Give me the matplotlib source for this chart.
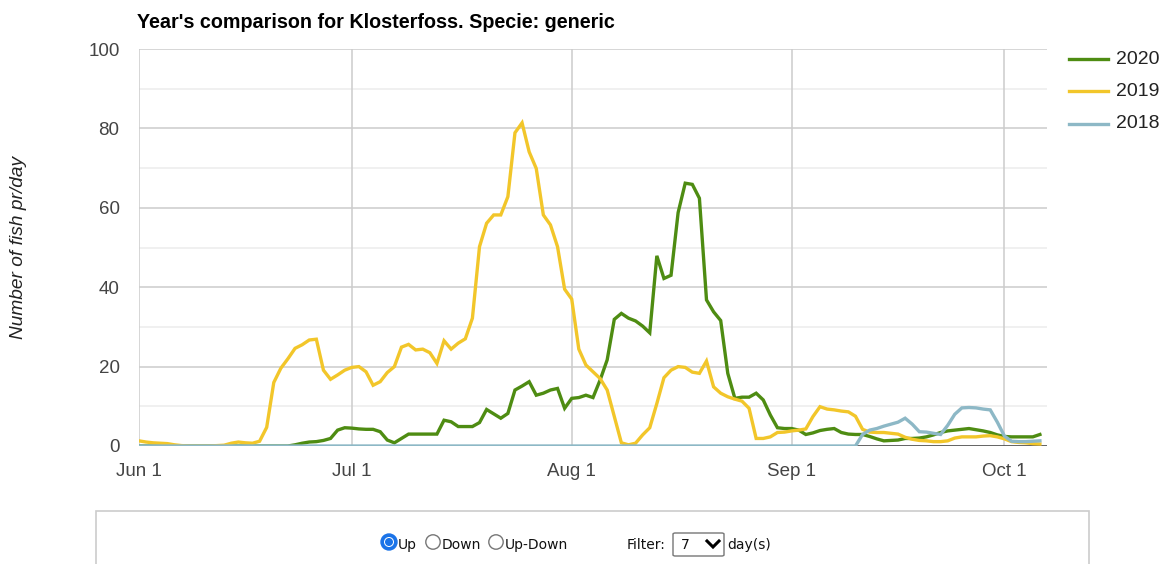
import matplotlib
matplotlib.use("Agg")
import matplotlib.pyplot as plt
from matplotlib.lines import Line2D
from matplotlib.patches import Rectangle, Circle, FancyBboxPatch
import numpy as np

plt.rcParams['font.family'] = ['Liberation Sans', 'DejaVu Sans']

# ---------------- data (day offsets from Jun 1, 7-day filtered counts) ----------------
days = list(range(128))

series_2020 = [0] * 22 + [
    0.3, 0.7, 1.0, 1.1, 1.4, 1.9, 4.0, 4.6, 4.5, 4.3,
    4.2, 4.2, 3.6, 1.5, 0.8, 1.9, 3.0, 3.0, 3.0, 3.0,
    3.0, 6.5, 6.1, 4.9, 4.9, 4.9, 5.9, 9.2, 8.1, 7.0,
    8.2, 14.1, 15.1, 16.2, 12.8, 13.3, 14.1, 14.5, 9.5, 12.0,
    12.2, 12.8, 12.2, 16.6, 21.7, 31.9, 33.4, 32.2, 31.5, 30.2,
    28.5, 47.9, 42.2, 43.0, 58.8, 66.2, 65.9, 62.4, 36.8, 33.8,
    31.6, 18.3, 12.0, 12.3, 12.3, 13.3, 11.6, 7.8, 4.6, 4.4,
    4.4, 4.0, 2.9, 3.3, 3.9, 4.2, 4.4, 3.4, 3.0, 2.9,
    2.9, 2.4, 1.8, 1.3, 1.4, 1.5, 1.9, 1.9, 2.0, 2.3,
    2.8, 3.4, 3.8, 4.0, 4.2, 4.4, 4.1, 3.8, 3.4, 2.8,
    2.4, 2.3, 2.3, 2.3, 2.3, 2.9]

series_2019 = [
    1.3, 1.0, 0.8, 0.7, 0.6, 0.3, 0.1, 0.0, 0.0, 0.0,
    0.0, 0.1, 0.2, 0.7, 1.0, 0.8, 0.7, 1.2, 4.7, 16.0,
    19.6, 22.0, 24.6, 25.5, 26.7, 26.9, 19.1, 16.8, 17.9, 19.1,
    19.8, 20.0, 18.7, 15.3, 16.2, 18.5, 20.0, 24.9, 25.6, 24.2,
    24.4, 23.5, 20.8, 26.5, 24.4, 25.9, 27.0, 32.2, 50.2, 56.1,
    58.2, 58.2, 62.8, 78.9, 81.4, 74.1, 69.9, 58.2, 55.7, 50.2,
    39.5, 37.0, 24.4, 20.4, 18.7, 17.0, 14.1, 7.4, 0.8, 0.3,
    0.7, 2.8, 4.6, 10.7, 17.2, 19.1, 20.0, 19.8, 18.6, 18.3,
    21.4, 14.9, 13.3, 12.4, 11.8, 11.3, 9.5, 1.9, 1.9, 2.3,
    3.4, 3.5, 3.8, 4.0, 4.3, 7.4, 9.9, 9.3, 9.1, 8.8,
    8.6, 7.5, 4.2, 3.5, 3.4, 3.4, 3.2, 3.0, 2.2, 1.7,
    1.4, 1.3, 1.1, 1.1, 1.3, 2.0, 2.3, 2.3, 2.3, 2.5,
    2.6, 2.3, 1.8, 1.1, 0.9, 0.8, 0.6, 0.5]

series_2018 = [0] * 102 + [
    2.9, 4.0, 4.4, 5.0, 5.5, 6.0, 7.0, 5.5, 3.6, 3.5,
    3.2, 2.9, 5.2, 8.0, 9.6, 9.7, 9.6, 9.3, 9.1, 6.0,
    2.5, 1.2, 1.1, 1.1, 1.2, 1.3]

series_names = ["2020", "2019", "2018"]
series_colors = ["#4e8c12", "#f2c62a", "#8db8c6"]

month_ticks = [0, 30, 61, 92, 122]
month_labels = ["Jun 1", "Jul 1", "Aug 1", "Sep 1", "Oct 1"]
y_ticks = [0, 20, 40, 60, 80, 100]

title = "Year's comparison for Klosterfoss. Specie: generic"
ylabel = "Number of fish pr/day"

# ---------------- figure ----------------
W, H = 1162, 564
fig = plt.figure(figsize=(W / 100, H / 100), dpi=100)
fig.patch.set_facecolor("white")

def fx(px):
    return px / W

def fy(py):
    return 1 - py / H

ax = fig.add_axes([fx(139), fy(446), fx(1047) - fx(139), fy(49) - fy(446)])
ax.set_xlim(0, 128)
ax.set_ylim(0, 100)

# grid
for v in range(10, 100, 20):
    ax.axhline(v, color="#ececec", lw=1.1, zorder=0)
for v in y_ticks[1:]:
    ax.axhline(v, color="#cccccc", lw=1.1, zorder=0)
for d in month_ticks:
    ax.axvline(d, color="#cccccc", lw=1.1, zorder=0)
ax.axhline(0, color="#555555", lw=2.0, zorder=1)

for spine in ax.spines.values():
    spine.set_visible(False)

data = [series_2020, series_2019, series_2018]
for i, (vals, name, col) in enumerate(zip(data, series_names, series_colors)):
    ax.plot(days[:len(vals)], vals, color=col, lw=2.4, zorder=3 + i,
            solid_joinstyle="miter", label=name)

ax.set_xticks(month_ticks)
ax.set_xticklabels(month_labels)
ax.set_yticks(y_ticks)
ax.tick_params(axis="both", length=0, labelsize=13.5, labelcolor="#444444")
ax.tick_params(axis="x", pad=12)
ax.tick_params(axis="y", pad=14)

# title & ylabel
fig.text(fx(137), fy(23), title, fontsize=14.2, fontweight="bold",
         color="#000000", ha="left", va="center")
fig.text(fx(19), fy(247), ylabel, fontsize=13.8, style="italic",
         color="#222222", rotation=90, ha="center", va="center")

# legend (manual)
leg_y = [59, 91, 124]
for yy, name, col in zip(leg_y, series_names, series_colors):
    fig.add_artist(Line2D([fx(1069), fx(1108)], [fy(yy), fy(yy)],
                          color=col, lw=2.4, transform=fig.transFigure))
    fig.text(fx(1116), fy(yy), name, fontsize=14, color="#222222",
             ha="left", va="center")

# ---------------- bottom control panel ----------------
fig.add_artist(Rectangle((fx(96), fy(600)), fx(1089) - fx(96), fy(511) - fy(600),
                         transform=fig.transFigure, facecolor="white",
                         edgecolor="#cccccc", lw=1.2))

pix = fig.dpi_scale_trans
def pin(px, py):
    return (px / 100, (H - py) / 100)

# checked radio "Up"
fig.add_artist(Circle(pin(389, 542), 0.08, transform=pix, facecolor="#1a73e8",
                      edgecolor="#1a73e8", lw=1))
fig.add_artist(Circle(pin(389, 542), 0.05, transform=pix, facecolor="white",
                      edgecolor="none"))
fig.add_artist(Circle(pin(389, 542), 0.04, transform=pix, facecolor="#1a73e8",
                      edgecolor="none"))
# unchecked radios
for cxp in [433, 496]:
    fig.add_artist(Circle(pin(cxp, 542), 0.072, transform=pix, facecolor="white",
                          edgecolor="#767676", lw=1.0))

small = dict(fontsize=10.0, color="#111111", va="center", ha="left",
             family=["DejaVu Sans"])
fig.text(fx(398), fy(545), "Up", **small)
fig.text(fx(442), fy(545), "Down", **small)
fig.text(fx(505), fy(545), "Up-Down", **small)
fig.text(fx(627), fy(545), "Filter:", **small)
fig.text(fx(727), fy(545), "day(s)", **small)

# select box
fig.add_artist(FancyBboxPatch((fx(673), fy(556)), fx(724) - fx(673), fy(533) - fy(556),
                              boxstyle="round,pad=0,rounding_size=0.002",
                              transform=fig.transFigure, facecolor="white",
                              edgecolor="#767676", lw=1.0))
fig.text(fx(681), fy(545), "7", **small)
fig.add_artist(Line2D([fx(707), fx(713), fx(719)], [fy(541), fy(547), fy(541)],
                      color="#000000", lw=2.2, transform=fig.transFigure,
                      solid_joinstyle="miter"))

fig.savefig("out.png", dpi=100, facecolor="white")
